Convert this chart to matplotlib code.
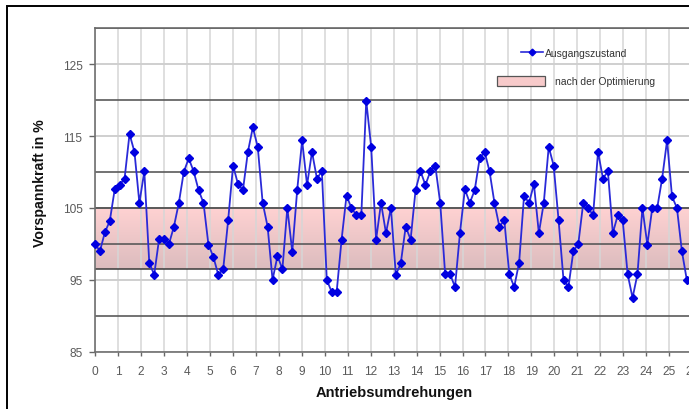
import numpy as np
import matplotlib
matplotlib.use("Agg")
import matplotlib.pyplot as plt
from matplotlib.colors import LinearSegmentedColormap
from matplotlib.lines import Line2D
from matplotlib.patches import Patch, Rectangle

plt.rcParams['font.family'] = ['Liberation Sans', 'DejaVu Sans']

# ---- data ----
step = 0.2147  # revolutions per sample
vorspannkraft = [
    100.0, 99.0, 101.6, 103.2, 107.6, 108.2, 109.1, 115.3, 112.8, 105.7,
    110.1, 97.4, 95.7, 100.7, 100.7, 100.0, 102.4, 105.7, 110.0, 111.9,
    110.1, 107.5, 105.7, 99.9, 98.2, 95.7, 96.5, 103.3, 110.9, 108.3,
    107.5, 112.8, 116.2, 113.5, 105.7, 102.4, 95.0, 98.3, 96.5, 105.0,
    98.9, 107.5, 114.4, 108.2, 112.8, 109.1, 110.1, 95.0, 93.3, 93.3,
    100.6, 106.7, 105.0, 104.0, 104.0, 119.9, 113.5, 100.6, 105.7, 101.5,
    105.0, 95.7, 97.3, 102.4, 100.6, 107.5, 110.1, 108.2, 110.1, 110.9,
    105.7, 95.8, 95.8, 94.0, 101.5, 107.6, 105.7, 107.5, 111.9, 112.8,
    110.1, 105.7, 102.4, 103.3, 95.8, 94.0, 97.4, 106.7, 105.7, 108.3,
    101.5, 105.7, 113.5, 110.9, 103.3, 95.0, 94.0, 99.0, 100.0, 105.7,
    105.0, 104.0, 112.8, 109.1, 110.1, 101.5, 104.0, 103.3, 95.8, 92.5,
    95.8, 105.0, 99.9, 105.0, 105.0, 109.1, 114.4, 106.6, 105.0, 99.0,
    95.0,
]
umdrehungen = np.arange(len(vorspannkraft)) * step

band_low = 96.5
band_high = 105.0

y_major = [85, 95, 105, 115, 125]
y_minor = [90, 100, 110, 120, 130]
x_ticks = list(range(0, 27))
x_max = 27
y_min, y_max = 85, 130

series_label = "Ausgangszustand"
band_label = "nach der Optimierung"
ylabel = "Vorspannkraft in %"
xlabel = "Antriebsumdrehungen"

# ---- figure ----
W, H = 689, 410
fig = plt.figure(figsize=(W / 100, H / 100), dpi=100)

px_per_unit = 22.97
left_px, top_px, bottom_px = 95, 29.3, 352.7
ax = fig.add_axes([left_px / W, 1 - bottom_px / H,
                   x_max * px_per_unit / W, (bottom_px - top_px) / H])

# outer frame
fig.patches.append(Rectangle((7 / W, -0.1), 1.2, 1 - 7 / H + 0.1,
                             transform=fig.transFigure, fill=False,
                             edgecolor='black', lw=1.4, zorder=10))

# gradient band
cmap = LinearSegmentedColormap.from_list('band', ['#dcbcbe', '#ffd2d2'])
grad = np.linspace(0, 1, 100).reshape(-1, 1)
ax.imshow(grad, cmap=cmap, extent=[0, x_max, band_low, band_high],
          aspect='auto', origin='lower', zorder=0.2, interpolation='bicubic')

ax.set_xlim(0, x_max)
ax.set_ylim(y_min, y_max)
ax.set_axisbelow(True)

ax.set_xticks(x_ticks)
ax.set_yticks(y_major)
ax.set_yticks(y_minor, minor=True)
ax.xaxis.grid(True, color='#d6d6d6', lw=1.1)
ax.yaxis.grid(True, which='major', color='#cfcfcf', lw=1.4)
ax.yaxis.grid(True, which='minor', color='#5a5a5a', lw=1.2)

for yv in (band_low, band_high):
    ax.axhline(yv, color='#3a3a3a', lw=1.1, zorder=0.7)

ax.tick_params(axis='y', which='minor', length=0)
ax.tick_params(axis='both', which='major', colors='#666666',
               labelcolor='#5a5a5a', labelsize=8.6, width=1.0)
ax.tick_params(axis='y', which='major', length=4, pad=5)
ax.tick_params(axis='x', which='major', length=3, pad=6.5)

for s in ('left', 'bottom'):
    ax.spines[s].set_color('#707070')
    ax.spines[s].set_linewidth(1.2)
ax.spines['top'].set_color('#6a6a6a')
ax.spines['top'].set_linewidth(1.2)
ax.spines['right'].set_visible(False)

ax.plot(umdrehungen, vorspannkraft, color='#2a2ad8', lw=1.3,
        marker='D', markersize=4.2, markerfacecolor='#0000e0',
        markeredgecolor='#0000e0', zorder=3, clip_on=False)

# legend
h1 = Line2D([], [], color='#2a2ad8', lw=1.2, marker='D', markersize=3.4,
            markerfacecolor='#0000e0', markeredgecolor='#0000e0')
leg1 = fig.legend([h1], [series_label], loc='center left',
                  bbox_to_anchor=(521 / W, 1 - 54 / H), frameon=False,
                  fontsize=7.5, borderpad=0, borderaxespad=0,
                  handlelength=2.1, handletextpad=0.25)
for t in leg1.get_texts():
    t.set_color('#333333')
h2 = Patch(facecolor='#f7caca', edgecolor='#555555', lw=0.9)
leg2 = fig.legend([h2], [band_label], loc='center left',
                  bbox_to_anchor=(497 / W, 1 - 82 / H), frameon=False,
                  fontsize=7.5, borderpad=0, borderaxespad=0,
                  handlelength=4.6, handleheight=1.2, handletextpad=1.0)
for t in leg2.get_texts():
    t.set_color('#333333')

fig.text(40 / W, 1 - 183 / H, ylabel, rotation=90, ha='center', va='center',
         fontsize=10.2, fontweight='bold', color='#111111')
fig.text(394 / W, 1 - 393 / H, xlabel, ha='center', va='center',
         fontsize=10.5, fontweight='bold', color='#111111')

fig.savefig('out.png', dpi=100)
